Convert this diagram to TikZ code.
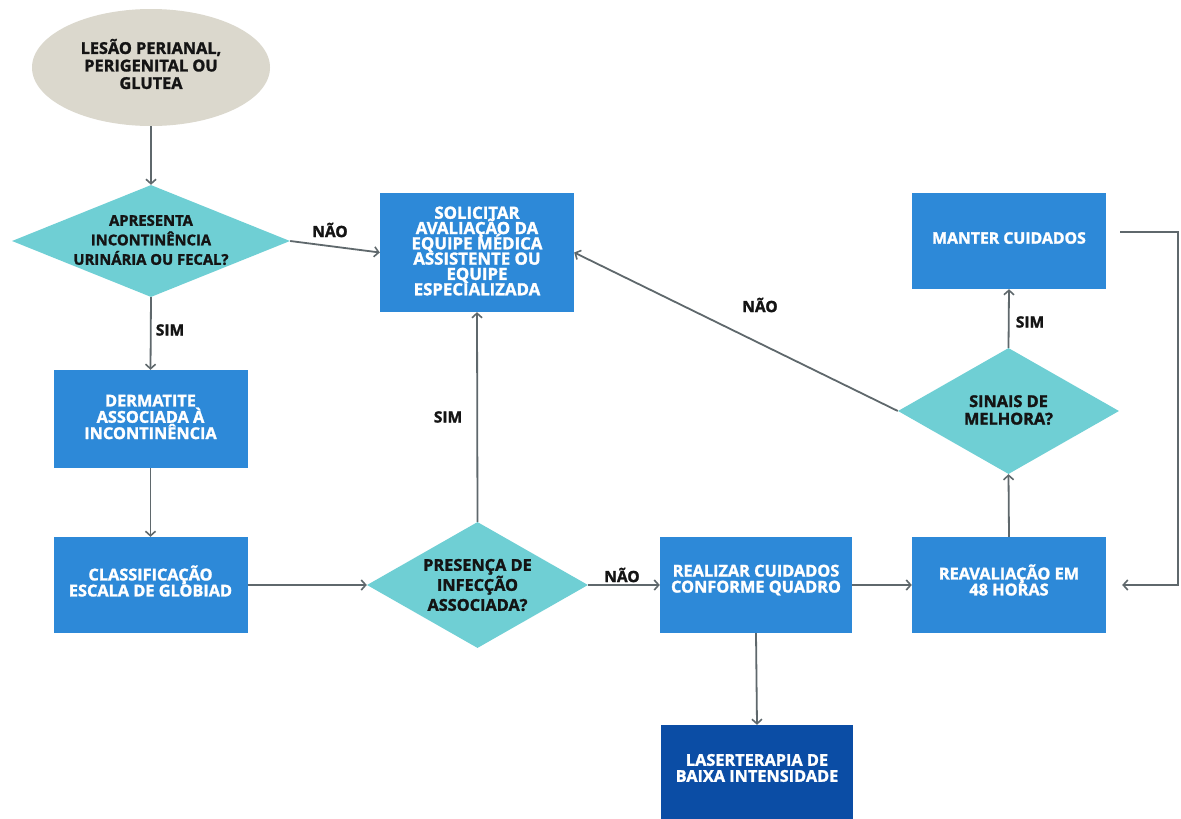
\documentclass[tikz,border=0pt]{standalone}
\usepackage{fontspec}
\setmainfont{Open Sans}[BoldFeatures={FakeBold=1.6}]
\usetikzlibrary{shapes.geometric,arrows.meta}
\definecolor{boxblue}{HTML}{2D89D8}
\definecolor{darkblue}{HTML}{0B4DA5}
\definecolor{teal}{HTML}{6FCFD4}
\definecolor{beige}{HTML}{DBD8CD}
\definecolor{linegray}{HTML}{5F686C}
\definecolor{ink}{HTML}{141414}
\begin{document}
\lineskiplimit=-100pt
\lineskip=0pt
\begin{tikzpicture}[x=1pt,y=-1pt,
  txt/.style={font=\fontsize{16.3}{16}\selectfont\bfseries, align=center, inner sep=0pt},
  btxt/.style={txt, text=white},
  box/.style={rectangle, fill=boxblue, minimum width=194pt, minimum height=96pt, inner sep=0pt},
  dia/.style={diamond, fill=teal, inner sep=0pt},
  dtext/.style={txt, text=ink},
  lbl/.style={txt, text=ink, font=\fontsize{15.5}{16}\selectfont\bfseries},
  arr/.style={draw=linegray, line width=1.8pt, -{Straight Barb[length=4.5pt,width=10pt,line width=1.6pt]}}
]
\useasboundingbox (0,0) rectangle (1181,819);
\fill[white] (0,0) rectangle (1181,819);

% start ellipse
\node[ellipse, fill=beige, minimum width=238pt, minimum height=117pt, inner sep=0pt] (start) at (151,67.5) {};
\node[dtext, font=\fontsize{16.3}{17.5}\selectfont\bfseries] (startt) at (151,64) {LESÃO PERIANAL,\\PERIGENITAL OU\\GLUTEA};

% decision 1
\node[dia, minimum width=278pt, minimum height=112pt] (d1) at (151,241) {};
\node[dtext, font=\fontsize{14.8}{19.5}\selectfont\bfseries] (d1t) at (151,240) {APRESENTA\\INCONTINÊNCIA\\URINÁRIA OU FECAL?};

% boxes
\node[box, minimum height=119pt] (sol) at (477,252.5) {};
\node[btxt, font=\fontsize{16.8}{15.3}\selectfont\bfseries] (solt) at (477,251) {SOLICITAR\\AVALIAÇÃO DA\\EQUIPE MÉDICA\\ASSISTENTE OU\\EQUIPE\\ESPECIALIZADA};
\node[box, minimum height=98pt] (derm) at (150.5,419) {};
\node[btxt, font=\fontsize{16.3}{16.3}\selectfont\bfseries] (dermt) at (150.5,417) {DERMATITE\\ASSOCIADA À\\INCONTINÊNCIA};
\node[box] (cls) at (150.5,585) {};
\node[btxt] (clst) at (150.5,581) {CLASSIFICAÇÃO\\ESCALA DE GLOBIAD};
\node[box, minimum width=192pt] (real) at (756,585) {};
\node[btxt] (realt) at (756,580) {REALIZAR CUIDADOS\\CONFORME QUADRO};
\node[box] (reav) at (1009,585) {};
\node[btxt] (reavt) at (1009,580) {REAVALIAÇÃO EM\\48 HORAS};
\node[box] (mant) at (1009,241) {};
\node[btxt, font=\fontsize{15.8}{16}\selectfont\bfseries] (mantt) at (1009,238) {MANTER CUIDADOS};
\node[box, fill=darkblue, minimum width=192pt, minimum height=94pt] (laser) at (757,772) {};
\node[btxt] (lasert) at (757,768) {LASERTERAPIA DE\\BAIXA INTENSIDADE};

% decisions 2 and 3
\node[dia, minimum width=221pt, minimum height=126pt] (d2) at (477.5,585) {};
\node[dtext, font=\fontsize{16.3}{20}\selectfont\bfseries] (d2t) at (477.5,585) {PRESENÇA DE\\INFECÇÃO\\ASSOCIADA?};
\node[dia, minimum width=221pt, minimum height=126pt] (d3) at (1008.5,411) {};
\node[dtext, font=\fontsize{16.3}{17.5}\selectfont\bfseries] (d3t) at (1008.5,410) {SINAIS DE\\MELHORA?};

% connectors
\draw[arr] (start) -- (d1.north);
\draw[arr] (d1.east) -- (sol.west);
\draw[arr] (d1.south) -- (derm.north);
\draw[arr] (derm.south) -- (cls.north);
\draw[arr] (cls.east) -- (d2.west);
\draw[arr] (d2.north) -- (sol.south);
\draw[arr] (d2.east) -- (real.west);
\draw[arr] (real.east) -- (reav.west);
\draw[arr] (real.south) -- (laser.north);
\draw[arr] (reav.north) -- (d3.south);
\draw[arr] (d3.north) -- (mant.south);
\draw[arr] (d3.west) -- (sol.east);
\draw[arr, shorten <=14pt, shorten >=16pt] ([yshift=9pt]mant.east) -- ++(72,0) |- (reav.east);

% labels
\node[lbl] (l1) at (330,230) {NÃO};
\node[lbl] (l2) at (170,330) {SIM};
\node[lbl] (l3) at (448,417) {SIM};
\node[lbl] (l4) at (622,575) {NÃO};
\node[lbl] (l5) at (760,305) {NÃO};
\node[lbl] (l6) at (1030,322) {SIM};
\end{tikzpicture}
\end{document}
